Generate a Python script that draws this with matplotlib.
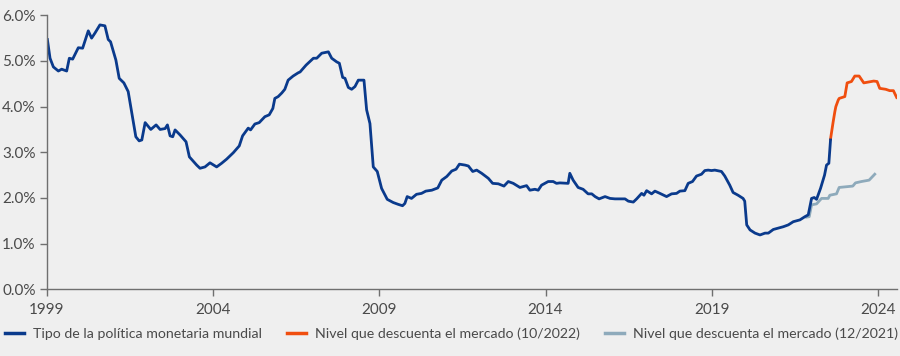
import matplotlib
matplotlib.use("Agg")
import matplotlib.pyplot as plt
from matplotlib.lines import Line2D
from matplotlib.ticker import FuncFormatter

# ---- data (decimal years, % values) ----
policy_years = [1999.02, 1999.10, 1999.20, 1999.35, 1999.45, 1999.60, 1999.68, 1999.78, 1999.95,
                2000.08, 2000.25, 2000.35, 2000.45, 2000.60, 2000.75, 2000.85, 2000.92,
                2001.08, 2001.18, 2001.32, 2001.45, 2001.56, 2001.68, 2001.78, 2001.86, 2001.96,
                2002.13, 2002.29, 2002.41, 2002.56, 2002.63, 2002.71, 2002.79, 2002.86,
                2003.01, 2003.19, 2003.29, 2003.51, 2003.61, 2003.76, 2003.91,
                2004.11, 2004.26, 2004.41, 2004.61, 2004.79, 2004.89,
                2005.06, 2005.13, 2005.26, 2005.39, 2005.56, 2005.69, 2005.80, 2005.86, 2005.96,
                2006.07, 2006.16, 2006.26, 2006.41, 2006.56, 2006.62, 2006.80,
                2007.02, 2007.12, 2007.27, 2007.47, 2007.57, 2007.72, 2007.80, 2007.90, 2007.97,
                2008.07, 2008.17, 2008.27, 2008.37, 2008.54, 2008.62, 2008.72, 2008.82, 2008.94,
                2009.07, 2009.24, 2009.42, 2009.57, 2009.70, 2009.77, 2009.84, 2009.97,
                2010.12, 2010.27, 2010.40, 2010.58, 2010.76, 2010.88,
                2011.03, 2011.18, 2011.31, 2011.41, 2011.58, 2011.68, 2011.81, 2011.93,
                2012.08, 2012.28, 2012.41, 2012.58, 2012.75, 2012.88,
                2013.03, 2013.23, 2013.43, 2013.53, 2013.68, 2013.78, 2013.88,
                2014.08, 2014.23, 2014.33, 2014.43, 2014.68, 2014.73, 2014.83, 2014.98,
                2015.13, 2015.28, 2015.39, 2015.49, 2015.61, 2015.79, 2015.94,
                2016.09, 2016.39, 2016.49, 2016.64, 2016.74, 2016.89, 2016.96,
                2017.04, 2017.19, 2017.29, 2017.44, 2017.64, 2017.79, 2017.94,
                2018.04, 2018.19, 2018.29, 2018.42, 2018.54, 2018.69, 2018.79, 2018.89, 2018.99,
                2019.09, 2019.29, 2019.39, 2019.54, 2019.64, 2019.79, 2019.94, 2019.99,
                2020.05, 2020.15, 2020.30, 2020.45, 2020.60, 2020.70, 2020.85,
                2021.00, 2021.15, 2021.30, 2021.45, 2021.65, 2021.80, 2021.90, 2021.93,
                2022.00, 2022.08, 2022.15, 2022.27, 2022.39, 2022.45, 2022.52, 2022.57]
policy_vals = [5.47, 5.06, 4.87, 4.78, 4.82, 4.78, 5.06, 5.04, 5.29,
               5.28, 5.66, 5.50, 5.61, 5.79, 5.77, 5.47, 5.42,
               5.02, 4.62, 4.52, 4.33, 3.85, 3.34, 3.25, 3.27, 3.65,
               3.50, 3.60, 3.50, 3.52, 3.60, 3.36, 3.34, 3.49,
               3.38, 3.23, 2.90, 2.72, 2.65, 2.68, 2.77,
               2.68, 2.76, 2.85, 2.99, 3.14, 3.36,
               3.53, 3.49, 3.62, 3.65, 3.78, 3.82, 3.96, 4.18, 4.22,
               4.30, 4.38, 4.58, 4.67, 4.74, 4.76, 4.91,
               5.06, 5.06, 5.17, 5.20, 5.06, 4.98, 4.95, 4.64, 4.62,
               4.42, 4.38, 4.44, 4.58, 4.58, 3.93, 3.63, 2.68, 2.58,
               2.21, 1.97, 1.90, 1.86, 1.83, 1.88, 2.03, 1.99,
               2.08, 2.10, 2.15, 2.17, 2.22, 2.39,
               2.47, 2.59, 2.63, 2.74, 2.72, 2.70, 2.58, 2.61,
               2.54, 2.43, 2.32, 2.31, 2.26, 2.36,
               2.32, 2.23, 2.27, 2.17, 2.19, 2.17, 2.28,
               2.36, 2.36, 2.32, 2.33, 2.32, 2.54, 2.39, 2.23,
               2.19, 2.09, 2.09, 2.03, 1.98, 2.03, 1.99,
               1.98, 1.98, 1.93, 1.91, 1.98, 2.10, 2.06,
               2.16, 2.09, 2.15, 2.10, 2.03, 2.09, 2.10,
               2.15, 2.16, 2.32, 2.36, 2.48, 2.52, 2.60, 2.61, 2.60,
               2.61, 2.58, 2.48, 2.28, 2.12, 2.06, 1.99, 1.93,
               1.41, 1.30, 1.23, 1.19, 1.23, 1.23, 1.31,
               1.34, 1.37, 1.41, 1.48, 1.52, 1.59, 1.63, 1.74,
               1.99, 2.01, 1.97, 2.21, 2.50, 2.72, 2.76, 3.27]

market_oct22_years = [2022.57, 2022.65, 2022.70, 2022.73, 2022.80, 2022.83, 2023.00, 2023.07,
                      2023.20, 2023.30, 2023.43, 2023.57, 2023.87, 2023.97, 2024.05, 2024.23,
                      2024.35, 2024.46, 2024.56]
market_oct22_vals = [3.29, 3.67, 3.89, 4.00, 4.14, 4.18, 4.22, 4.52,
                     4.55, 4.67, 4.67, 4.52, 4.56, 4.55, 4.40, 4.38,
                     4.35, 4.35, 4.20]

market_dec21_years = [2021.85, 2021.93, 2022.00, 2022.15, 2022.30, 2022.50, 2022.55, 2022.75,
                      2022.83, 2023.24, 2023.32, 2023.50, 2023.73, 2023.90]
market_dec21_vals = [1.58, 1.59, 1.85, 1.87, 1.99, 1.99, 2.06, 2.09,
                     2.23, 2.26, 2.33, 2.36, 2.39, 2.52]

x_ticks = [1999, 2004, 2009, 2014, 2019, 2024]
y_ticks = [0, 1, 2, 3, 4, 5, 6]
labels = ["Tipo de la política monetaria mundial",
          "Nivel que descuenta el mercado (10/2022)",
          "Nivel que descuenta el mercado (12/2021)"]

# ---- style ----
BG = "#efefef"
C_BLUE = "#0a3a8c"
C_ORANGE = "#f04e0f"
C_GREY = "#8eaabb"
TXT = "#4a4a4a"
AX = "#6f6f6f"
plt.rcParams['font.family'] = ['Lato', 'DejaVu Sans']

fig = plt.figure(figsize=(9, 3.56), dpi=100, facecolor=BG)
ax = fig.add_axes([0.0519, 0.1874, 0.9448, 0.7696])
ax.set_facecolor(BG)

ax.plot(market_dec21_years, market_dec21_vals, color=C_GREY, lw=2.0, solid_joinstyle='round')
ax.plot(market_oct22_years, market_oct22_vals, color=C_ORANGE, lw=2.0, solid_joinstyle='round')
ax.plot(policy_years, policy_vals, color=C_BLUE, lw=2.0, solid_joinstyle='round')

ax.set_xlim(1999, 2024.57)
ax.set_ylim(0, 6)
ax.set_xticks(x_ticks)
ax.set_yticks(y_ticks)
ax.yaxis.set_major_formatter(FuncFormatter(lambda v, p: f"{v:.1f}%"))
for s in ["top", "right"]:
    ax.spines[s].set_visible(False)
for s in ["left", "bottom"]:
    ax.spines[s].set_color(AX)
    ax.spines[s].set_linewidth(1.0)
ax.tick_params(axis='both', colors=AX, labelcolor=TXT, labelsize=11, length=5, width=1.0)
ax.tick_params(axis='x', pad=5)
ax.tick_params(axis='y', pad=3)

handles = [Line2D([], [], color=c, lw=2.5) for c in (C_BLUE, C_ORANGE, C_GREY)]
fig.legend(handles, labels, loc='center left', bbox_to_anchor=(0.005, 0.062), ncol=3,
           frameon=False, fontsize=10.2, labelcolor=TXT, handlelength=1.35, handletextpad=0.65,
           columnspacing=1.75, borderaxespad=0, borderpad=0)

fig.savefig("out.png", dpi=100, facecolor=BG)
